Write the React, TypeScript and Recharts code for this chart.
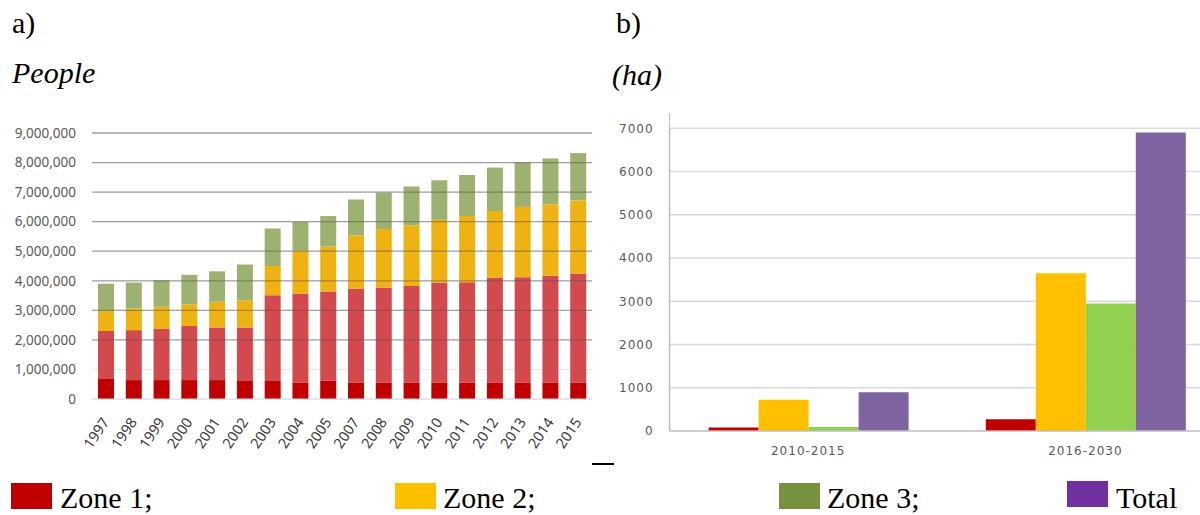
import { BarChart, Bar, XAxis, YAxis, CartesianGrid, ReferenceLine } from 'recharts'

// a) population by zone, stacked
const years = ['1997', '1998', '1999', '2000', '2001', '2002', '2003', '2004', '2005', '2007', '2008', '2009', '2010', '2011', '2012', '2013', '2014', '2015']
const zone1Core = [700000, 640000, 640000, 640000, 640000, 610000, 610000, 560000, 620000, 560000, 560000, 560000, 560000, 560000, 560000, 560000, 560000, 560000]
const zone1Rest = [1600000, 1690000, 1730000, 1830000, 1780000, 1810000, 2900000, 3000000, 3020000, 3170000, 3210000, 3260000, 3380000, 3390000, 3550000, 3560000, 3610000, 3690000]
const zone2People = [680000, 730000, 750000, 730000, 870000, 920000, 990000, 1460000, 1520000, 1810000, 1980000, 2060000, 2120000, 2240000, 2250000, 2380000, 2420000, 2470000]
const zone3People = [920000, 880000, 900000, 1000000, 1030000, 1210000, 1270000, 970000, 1030000, 1210000, 1230000, 1310000, 1340000, 1390000, 1470000, 1510000, 1550000, 1600000]
const peopleTicks = [0, 1000000, 2000000, 3000000, 4000000, 5000000, 6000000, 7000000, 8000000, 9000000]
const darkGrid = [2000000, 3000000, 4000000, 5000000, 6000000, 7000000, 8000000, 9000000]

// b) land area (ha) by period
const periods = ['2010-2015', '2016-2030']
const zone1Ha = [80, 270]
const zone2Ha = [720, 3650]
const zone3Ha = [95, 2950]
const totalHa = [895, 6900]
const haTicks = [0, 1000, 2000, 3000, 4000, 5000, 6000, 7000]

const peopleData = years.map((y, i) => ({
  year: y,
  core: zone1Core[i],
  rest: zone1Rest[i],
  z2: zone2People[i],
  z3: zone3People[i],
}))

const haData = periods.map((p, i) => ({
  period: p,
  z1: zone1Ha[i],
  z2: zone2Ha[i],
  z3: zone3Ha[i],
  total: totalHa[i],
}))

const legend = [
  { label: 'Zone 1;', color: '#c00000', box: 11, text: 60, top: 483 },
  { label: 'Zone 2;', color: '#ffc000', box: 395, text: 443, top: 483 },
  { label: 'Zone 3;', color: '#76923c', box: 779, text: 827, top: 483 },
  { label: 'Total', color: '#7030a0', box: 1067, text: 1116, top: 481 },
]

const YearTick = (props: any) => {
  const { x, y, payload } = props
  return (
    <g transform={`translate(${x + 4},${y + 23})`}>
      <text textAnchor="end" transform="rotate(-56)" fill="#3a3a3a" fontSize={14.5} fontFamily="Noto Sans">
        {payload.value}
      </text>
    </g>
  )
}

const serif = { fontFamily: 'Liberation Serif', fontSize: 30, lineHeight: 1, color: '#000', position: 'absolute' as const }
const haTick = { fill: '#595959', fontSize: 12, fontFamily: 'DejaVu Sans', letterSpacing: 1 }

export default function App() {
  return (
    <div style={{ position: 'absolute', left: 0, top: 0, width: 1200, height: 515, overflow: 'hidden', background: '#fff' }}>
      <div style={{ ...serif, left: 12, top: 8 }}>a)</div>
      <div style={{ ...serif, left: 12, top: 58, fontStyle: 'italic' }}>People</div>
      <div style={{ ...serif, left: 616, top: 8 }}>b)</div>
      <div style={{ ...serif, left: 612, top: 60, fontStyle: 'italic' }}>(ha)</div>

      <div style={{ position: 'absolute', left: 0, top: 0 }}>
        <BarChart width={600} height={470} data={peopleData} margin={{ top: 133, right: 8, left: 12, bottom: 11 }}>
          <CartesianGrid horizontal vertical={false} stroke="#e6e6e6" horizontalValues={peopleTicks} />
          <XAxis dataKey="year" height={60} tickSize={0} tickMargin={0} interval={0}
            axisLine={{ stroke: '#d9d9d9' }} tick={<YearTick />} />
          <YAxis width={80} domain={[0, 9000000]} ticks={peopleTicks} tickSize={0} tickMargin={16}
            axisLine={false} tickLine={false} interval={0}
            tickFormatter={(v: number) => v.toLocaleString('en-US')}
            tick={{ fill: '#595959', fontSize: 13.5, fontFamily: 'Noto Sans' }} />
          <Bar dataKey="core" stackId="p" fill="#c00000" barSize={16} isAnimationActive={false} />
          <Bar dataKey="rest" stackId="p" fill="#d24a4e" barSize={16} isAnimationActive={false} />
          <Bar dataKey="z2" stackId="p" fill="#eeb213" barSize={16} isAnimationActive={false} />
          <Bar dataKey="z3" stackId="p" fill="#9db270" barSize={16} isAnimationActive={false} />
          {darkGrid.map(v => (
            <ReferenceLine key={v} y={v} stroke="#555" strokeOpacity={0.5} strokeWidth={1.3} />
          ))}
        </BarChart>
      </div>

      {/* axis stub above the 7000 line */}
      <div style={{ position: 'absolute', left: 668.9, top: 112.7, width: 1.5, height: 16, background: '#bfbfbf' }} />

      <div style={{ position: 'absolute', left: 600, top: 0 }}>
        <BarChart width={640} height={470} data={haData} barGap={0} margin={{ top: 128.3, right: 16, left: 9.6, bottom: 9 }}>
          <CartesianGrid horizontal={false} vertical={false} />
          {haTicks.slice(1).map(v => (
            <ReferenceLine key={v} y={v} stroke="#d9d9d9" strokeWidth={1.5} zIndex={-50} />
          ))}
          <XAxis dataKey="period" height={30} tickSize={0} tickMargin={15} tickLine={false}
            axisLine={{ stroke: '#bfbfbf', strokeWidth: 1.5 }} tick={haTick} />
          <YAxis width={60} domain={[0, 7000]} ticks={haTicks} tickSize={0} tickMargin={16} interval={0}
            axisLine={{ stroke: '#bfbfbf', strokeWidth: 1.5 }} tickLine={false} tick={haTick} />
          <Bar dataKey="z1" fill="#c00000" barSize={50} isAnimationActive={false} />
          <Bar dataKey="z2" fill="#ffc000" barSize={50} isAnimationActive={false} />
          <Bar dataKey="z3" fill="#92d050" barSize={50} isAnimationActive={false} />
          <Bar dataKey="total" fill="#8064a2" barSize={50} isAnimationActive={false} />
        </BarChart>
      </div>

      <div style={{ position: 'absolute', left: 592, top: 463, width: 22, height: 2, background: '#000' }} />

      {legend.map(l => (
        <div key={l.label}>
          <div style={{ position: 'absolute', left: l.box, top: l.top, width: 41, height: 26, background: l.color }} />
          <div style={{ ...serif, left: l.text, top: 483 }}>{l.label}</div>
        </div>
      ))}
    </div>
  )
}
